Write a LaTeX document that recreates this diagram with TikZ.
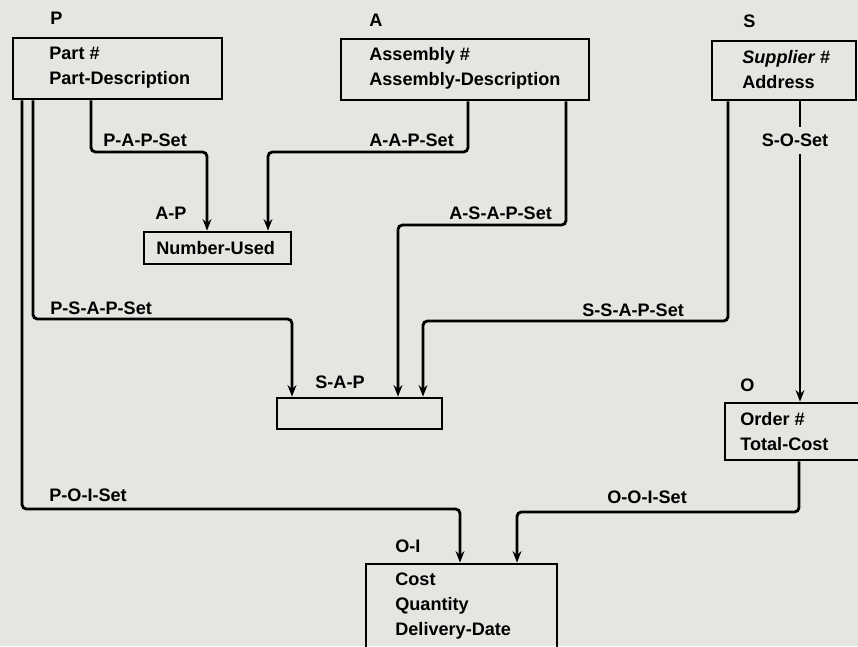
\documentclass[tikz,border=0pt]{standalone}
\usepackage{fontspec}
\setmainfont{Liberation Sans}
\usetikzlibrary{arrows.meta,fit}
\definecolor{paper}{RGB}{229,229,226}
\tikzset{
	rec/.style={draw, line width=1.6pt, inner sep=0pt},
	txt/.style={font=\bfseries\fontsize{10.3}{14.2}\selectfont, inner sep=0pt, align=left, anchor=north west},
	tag/.style={font=\bfseries\fontsize{10.3}{14.2}\selectfont, inner sep=0pt, anchor=base west},
	link/.style={line width=1.6pt, rounded corners=2.5pt, -{Stealth[length=6.5pt,width=5pt]}},
}

\begin{document}
\begin{tikzpicture}[x=0.02cm, y=-0.02cm]
	\useasboundingbox (0,0) rectangle (858,646);
	\fill[paper] (0,0) rectangle (858,646);
	\clip (0,0) rectangle (858,646);

	% record types
	\node[rec, fit={(13,38) (222,99)}] (P) {};
	\node[rec, fit={(341,39) (589,100)}] (A) {};
	\node[rec, fit={(712,41) (856,100)}] (S) {};
	\node[rec, fit={(144,232) (291,264)}] (AP) {};
	\node[rec, fit={(277,398) (442,429)}] (SAP) {};
	\node[rec, fit={(725,403) (860,460)}] (O) {};
	\node[rec, fit={(366,564) (557,652)}] (OI) {};

	\node[tag] (Pname) at (50,24.5) {P};
	\node[tag] (Aname) at (369,26.5) {A};
	\node[tag] (Sname) at (743,27.5) {S};
	\node[tag] (APname) at (155,219.5) {A-P};
	\node[tag] (SAPname) at (315,388.5) {S-A-P};
	\node[tag] (Oname) at (740,391.5) {O};
	\node[tag] (OIname) at (395,552.5) {O-I};

	\node[txt] (Pitems) at (49,46.5) {Part \#\\Part-Description};
	\node[txt] (Aitems) at (369,47.5) {Assembly \#\\Assembly-Description};
	\node[txt] (Sitems) at (742,50.5) {\itshape Supplier \#\\Address};
	\node[txt] (APitems) at (156,241.5) {Number-Used};
	\node[txt] (Oitems) at (740,412.5) {Order \#\\Total-Cost};
	\node[txt] (OIitems) at (395,572.5) {Cost\\Quantity\\Delivery-Date};

	% set types
	\draw[link] (P.south -| 91,0) |- (207,152) -- (AP.north -| 207,0);
	\draw[link] (A.south -| 468,0) |- (268,152) -- (AP.north -| 268,0);
	\draw[link] (P.south -| 33,0) |- (292,319) -- (SAP.north -| 292,0);
	\draw[link] (A.south -| 566,0) |- (398,225) -- (SAP.north -| 398,0);
	\draw[link] (S.south -| 728,0) |- (423,321) -- (SAP.north -| 423,0);
	\draw[link] (S.south -| 800,0) -- (O.north -| 800,0);
	\draw[link] (P.south -| 22,0) |- (460,509) -- (OI.north -| 460,0);
	\draw[link] (O.south -| 799,0) |- (517,512) -- (OI.north -| 517,0);

	\node[tag] (PAP) at (103,146.5) {P-A-P-Set};
	\node[tag] (AAP) at (369,146.5) {A-A-P-Set};
	\node[tag, fill=paper, inner xsep=2pt, inner ysep=4pt] (SO) at (758,146.5) {S-O-Set};
	\node[tag] (ASAP) at (449,219.5) {A-S-A-P-Set};
	\node[tag] (PSAP) at (50,314.5) {P-S-A-P-Set};
	\node[tag] (SSAP) at (582,316.5) {S-S-A-P-Set};
	\node[tag] (POI) at (49,501.5) {P-O-I-Set};
	\node[tag] (OOI) at (607,503.5) {O-O-I-Set};
\end{tikzpicture}
\end{document}
